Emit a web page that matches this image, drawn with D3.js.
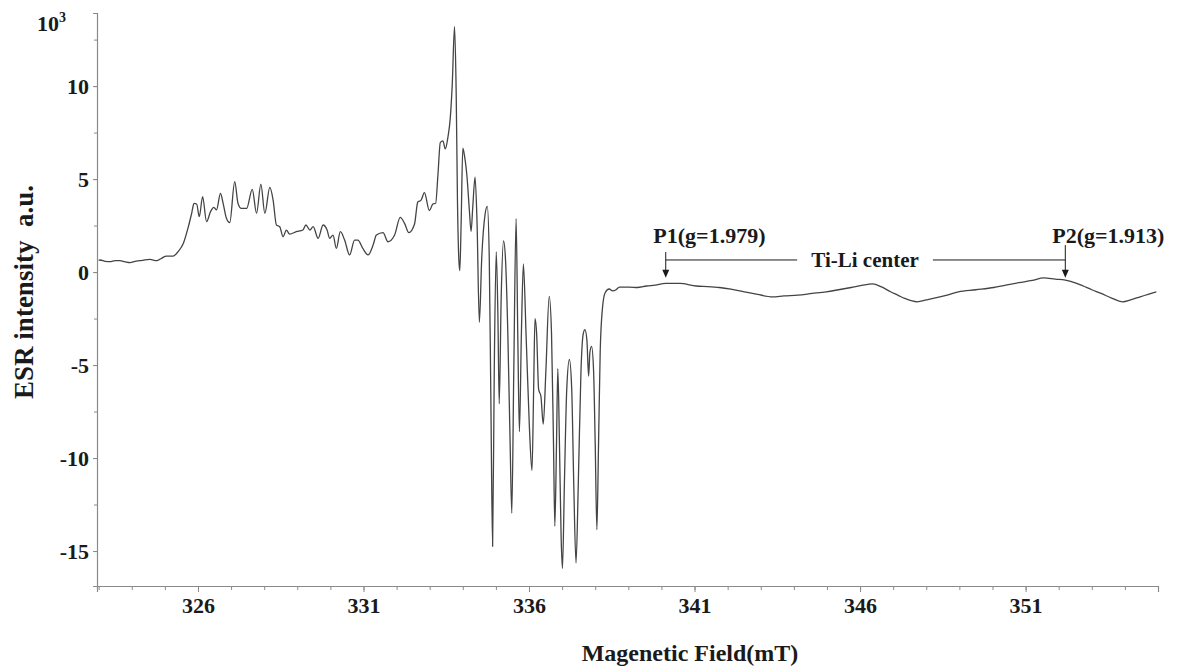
<!DOCTYPE html>
<html>
<head>
<meta charset="utf-8">
<script src="https://cdn.jsdelivr.net/npm/d3@7"></script>
<style>
  body { margin: 0; background: #fff; }
  svg { display: block; font-family: "Liberation Serif", "Times New Roman", serif; }
</style>
</head>
<body>
<div id="chart"></div>
<script>
// spectrum: field (mT) and ESR intensity (x10^3 a.u.)
const field = [
  323.00, 323.04, 323.20, 323.34, 323.50, 323.64, 323.80, 323.95, 324.10, 324.25,
  324.40, 324.55, 324.75, 324.90, 325.05, 325.25, 325.40, 325.56, 325.71, 325.81,
  325.88, 325.96, 326.04, 326.14, 326.26, 326.38, 326.48, 326.56, 326.68, 326.76,
  326.86, 326.96, 327.11, 327.21, 327.31, 327.47, 327.64, 327.77, 327.90, 328.02,
  328.17, 328.27, 328.37, 328.47, 328.57, 328.67, 328.77, 328.97, 329.17, 329.26,
  329.38, 329.48, 329.63, 329.78, 329.90, 329.98, 330.08, 330.18, 330.30, 330.43,
  330.58, 330.73, 330.83, 330.98, 331.14, 331.29, 331.39, 331.59, 331.74, 331.94,
  332.11, 332.24, 332.37, 332.54, 332.64, 332.74, 332.84, 332.99, 333.10, 333.18,
  333.25, 333.32, 333.40, 333.47, 333.55, 333.62, 333.68, 333.75, 333.80, 333.84,
  333.88, 333.91, 333.95, 334.00, 334.05, 334.13, 334.20, 334.25, 334.30, 334.37,
  334.43, 334.50, 334.57, 334.67, 334.74, 334.80, 334.85, 334.90, 334.95, 335.01,
  335.06, 335.10, 335.16, 335.23, 335.29, 335.36, 335.43, 335.48, 335.54, 335.61,
  335.66, 335.71, 335.77, 335.83, 335.91, 336.01, 336.09, 336.14, 336.18, 336.23,
  336.29, 336.36, 336.43, 336.51, 336.61, 336.68, 336.74, 336.78, 336.83, 336.87,
  336.92, 336.97, 337.01, 337.07, 337.14, 337.22, 337.29, 337.35, 337.42, 337.49,
  337.57, 337.64, 337.69, 337.75, 337.80, 337.84, 337.89, 337.95, 338.00, 338.05,
  338.10, 338.15, 338.22, 338.30, 338.42, 338.53, 338.63, 338.73, 339.03, 339.27,
  339.55, 339.81, 340.13, 340.56, 341.05, 341.40, 341.75, 342.10, 342.50, 342.90,
  343.36, 343.70, 344.12, 344.55, 344.98, 345.35, 345.73, 346.05, 346.38, 346.65,
  346.92, 347.15, 347.35, 347.73, 348.00, 348.21, 348.60, 348.97, 349.50, 350.04,
  350.40, 350.80, 351.20, 351.55, 351.90, 352.20, 352.50, 352.74, 353.00, 353.28,
  353.60, 353.92, 354.20, 354.46, 354.70, 354.95
];
const intensity = [
  0.63, 0.65, 0.58, 0.56, 0.62, 0.61, 0.55, 0.51, 0.58, 0.61,
  0.66, 0.68, 0.61, 0.74, 0.86, 0.86, 1.10, 1.55, 2.44, 3.16,
  3.69, 3.66, 2.98, 4.05, 2.71, 3.25, 3.48, 3.34, 4.23, 3.69,
  2.89, 2.66, 4.86, 3.69, 3.42, 3.42, 4.45, 3.16, 4.73, 3.16,
  4.55, 3.87, 2.53, 2.44, 1.90, 2.26, 2.04, 2.17, 2.26, 2.53,
  2.26, 2.44, 1.81, 2.53, 2.26, 1.81, 1.99, 1.27, 2.17, 1.72,
  0.92, 1.72, 1.72, 1.27, 0.92, 1.45, 1.99, 2.12, 1.63, 1.99,
  2.94, 2.62, 2.12, 2.57, 3.77, 3.87, 4.27, 3.31, 3.67, 3.70,
  5.26, 6.96, 7.05, 6.62, 7.25, 8.25, 10.04, 13.19, 9.64, 3.67,
  0.68, 0.08, 2.67, 6.66, 6.26, 5.06, 3.27, 2.18, 3.47, 5.10,
  2.67, -2.70, 0.68, 3.07, 3.53, 0.68, -7.28, -14.75, -5.29, 1.08,
  -2.31, -7.08, -1.31, 1.68, 0.68, -3.30, -9.27, -12.96, -5.29, 2.87,
  -3.30, -8.58, -3.30, 0.44, -3.30, -8.28, -10.67, -6.29, -2.50, -3.30,
  -6.29, -6.69, -8.18, -5.29, -1.31, -3.30, -9.27, -13.66, -9.27, -5.19,
  -9.27, -14.25, -15.94, -11.27, -6.29, -4.70, -6.29, -11.27, -15.65, -11.27,
  -5.29, -3.30, -3.10, -3.70, -5.59, -4.30, -4.00, -5.29, -9.27, -13.85,
  -9.27, -4.30, -1.91, -1.11, -0.91, -1.01, -0.95, -0.81, -0.81, -0.83,
  -0.75, -0.70, -0.61, -0.61, -0.75, -0.78, -0.83, -0.92, -1.06, -1.20,
  -1.33, -1.28, -1.24, -1.15, -1.06, -0.95, -0.83, -0.72, -0.63, -0.80,
  -1.06, -1.25, -1.42, -1.60, -1.50, -1.42, -1.25, -1.06, -0.95, -0.83,
  -0.70, -0.57, -0.45, -0.31, -0.38, -0.43, -0.58, -0.75, -0.95, -1.15,
  -1.40, -1.60, -1.48, -1.33, -1.20, -1.06
];

const xTicks = [326, 331, 336, 341, 346, 351];
const yTicks = [-15, -10, -5, 0, 5, 10];

// annotation: marked peaks and the bracket between them
const peakLabels = ["P1(g=1.979)", "P2(g=1.913)"];
const peakField = [340.13, 352.2];
const peakLabelField = [341.45, 353.5];
const centerLabel = "Ti-Li center";

const width = 1177;
const height = 667;
const xLo = 322.95, xHi = 355.0;
const yLo = -16.88, yHi = 13.93;

const axisGrey = "#8a8a8a";
const ink = "#1a1a1a";

const svg = d3
  .select("#chart")
  .append("svg")
  .attr("width", width)
  .attr("height", height);

const xScale = d3.scaleLinear().domain([xLo, xHi]).range([97, 1158]);
const yScale = d3.scaleLinear().domain([yLo, yHi]).range([586, 13]);

// minor ticks first, then the labelled ones
svg
  .append("g")
  .attr("class", "xMinor")
  .attr("transform", `translate(0, ${yScale(yLo)})`)
  .call(
    d3.axisBottom(xScale)
      .tickValues(d3.range(323, 355, 1))
      .tickSize(4)
      .tickFormat("")
  );

svg
  .append("g")
  .attr("class", "yMinor")
  .attr("transform", `translate(${xScale(xLo)}, 0)`)
  .call(
    d3.axisLeft(yScale)
      .tickValues(d3.range(-15, 13.9, 2.5))
      .tickSize(3)
      .tickFormat("")
  );

svg
  .append("g")
  .attr("class", "xAxis")
  .attr("transform", `translate(0, ${yScale(yLo)})`)
  .call(
    d3.axisBottom(xScale)
      .tickValues(xTicks)
      .tickSize(6)
      .tickPadding(5)
      .tickFormat((d) => String(d))
  );

svg
  .append("g")
  .attr("class", "yAxis")
  .attr("transform", `translate(${xScale(xLo)}, 0)`)
  .call(
    d3.axisLeft(yScale)
      .tickValues(yTicks)
      .tickSize(4)
      .tickPadding(4)
      .tickFormat((d) => String(d))
  );

// style axes like the original plot
svg.selectAll(".xMinor .domain, .yMinor .domain").remove();
svg.selectAll(".domain").attr("stroke", axisGrey).attr("stroke-width", 1.2);
svg.selectAll(".tick line").attr("stroke", axisGrey).attr("stroke-width", 1);
svg
  .selectAll(".xAxis .tick text, .yAxis .tick text")
  .attr("fill", ink)
  .attr("font-family", '"Liberation Serif", "Times New Roman", serif')
  .attr("font-weight", "bold")
  .attr("font-size", "22px");

// spectrum
const points = field.map((f, i) => [f, intensity[i]]);

const line = d3
  .line()
  .x((d) => xScale(d[0]))
  .y((d) => yScale(d[1]))
  .curve(d3.curveMonotoneX);

svg
  .append("path")
  .datum(points)
  .attr("fill", "none")
  .attr("stroke", "#444")
  .attr("stroke-width", 1.3)
  .attr("stroke-linejoin", "round")
  .attr("d", line);

// axis titles
svg
  .append("text")
  .attr("x", 690)
  .attr("y", 661)
  .attr("text-anchor", "middle")
  .attr("font-size", "24px")
  .attr("font-weight", "bold")
  .attr("fill", ink)
  .text("Magenetic Field(mT)");

svg
  .append("text")
  .attr("transform", "translate(33, 292) rotate(-90)")
  .attr("text-anchor", "middle")
  .attr("font-size", "27px")
  .attr("font-weight", "bold")
  .attr("fill", ink)
  .style("white-space", "pre")
  .text("ESR intensity  a.u.");

const unit = svg
  .append("text")
  .attr("x", 37)
  .attr("y", 31)
  .attr("font-size", "22px")
  .attr("font-weight", "bold")
  .attr("fill", ink);
unit.append("tspan").text("10");
unit.append("tspan").attr("dy", -9).attr("font-size", "14px").text("3");

// annotation bracket
const bracketY = yScale(0.65);
const tipY = yScale(-0.3);
const arrowTop = [yScale(1.08), yScale(1.45)];
const gapLeft = 344.1, gapRight = 348.2;

const ann = svg.append("g").attr("stroke", ink).attr("stroke-width", 1);

ann
  .append("line")
  .attr("x1", xScale(peakField[0]))
  .attr("x2", xScale(gapLeft))
  .attr("y1", bracketY)
  .attr("y2", bracketY);

ann
  .append("line")
  .attr("x1", xScale(gapRight))
  .attr("x2", xScale(peakField[1]))
  .attr("y1", bracketY)
  .attr("y2", bracketY);

peakField.forEach((f, i) => {
  const x = xScale(f);
  ann
    .append("line")
    .attr("x1", x)
    .attr("x2", x)
    .attr("y1", arrowTop[i])
    .attr("y2", tipY - 7);
  ann
    .append("path")
    .attr("stroke", "none")
    .attr("fill", ink)
    .attr("d", `M${x - 3.5},${tipY - 8} L${x + 3.5},${tipY - 8} L${x},${tipY} Z`);
});

svg
  .selectAll(".peakLabel")
  .data(peakLabels)
  .join("text")
  .attr("class", "peakLabel")
  .attr("x", (_d, i) => xScale(peakLabelField[i]))
  .attr("y", yScale(1.55))
  .attr("text-anchor", "middle")
  .attr("font-size", "22px")
  .attr("font-weight", "bold")
  .attr("fill", ink)
  .text((d) => d);

svg
  .append("text")
  .attr("x", xScale((gapLeft + gapRight) / 2))
  .attr("y", bracketY)
  .attr("dy", "0.35em")
  .attr("text-anchor", "middle")
  .attr("font-size", "21px")
  .attr("font-weight", "bold")
  .attr("fill", ink)
  .text(centerLabel);
</script>
</body>
</html>
